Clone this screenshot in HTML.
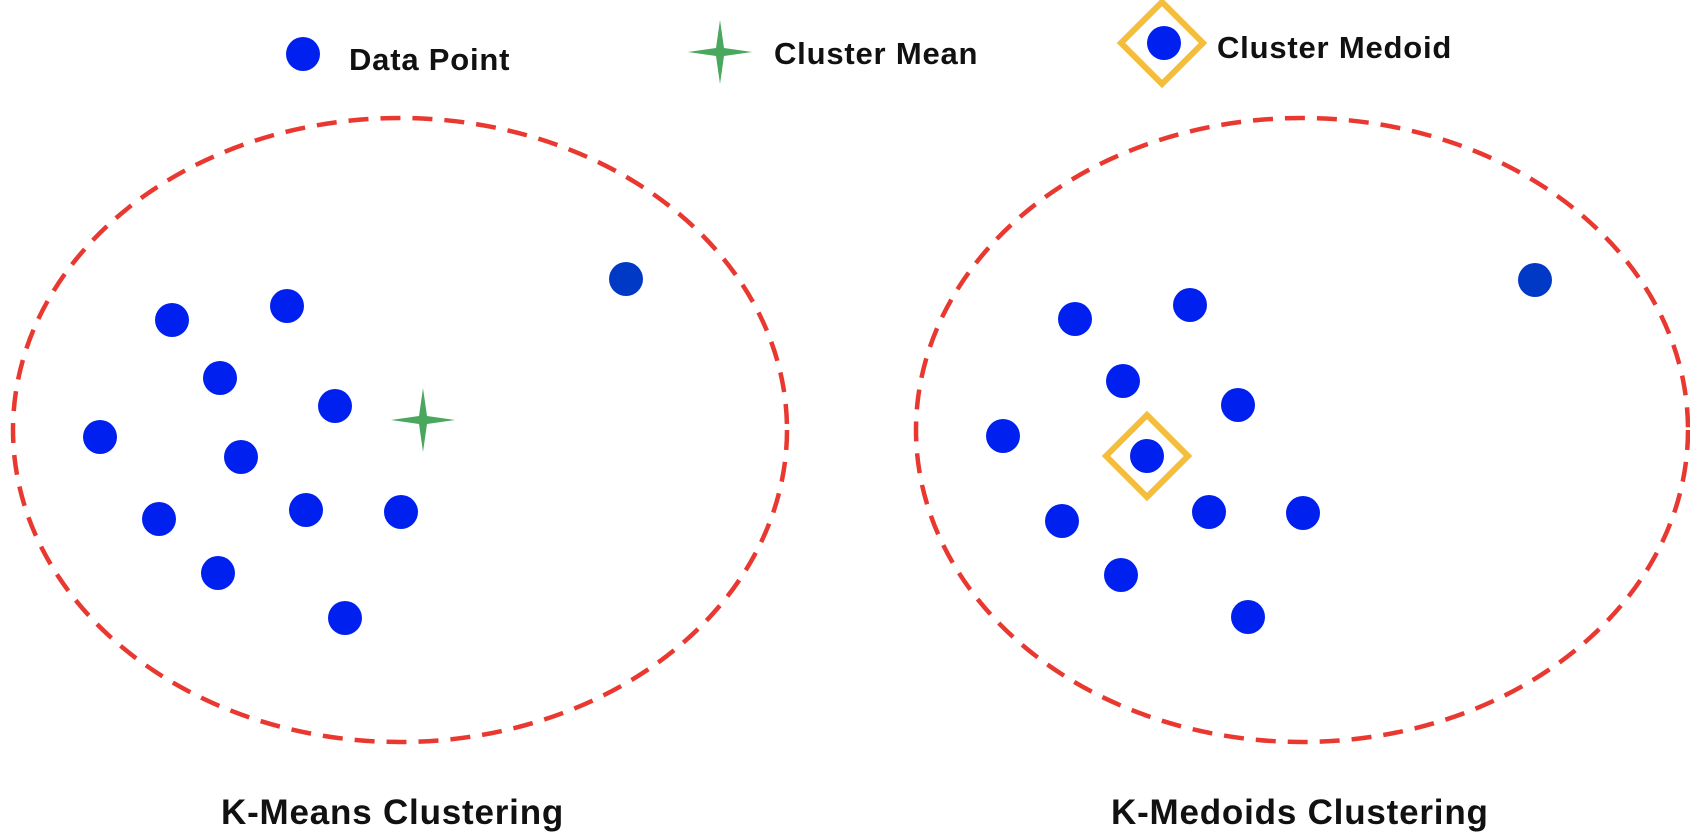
<!DOCTYPE html>
<html><head><meta charset="utf-8"><style>
html,body{margin:0;padding:0;background:#fff;}
svg{display:block;}
text{font-family:"Liberation Sans",sans-serif;font-weight:bold;fill:#111;}
</style></head><body>
<svg width="1690" height="838" viewBox="0 0 1690 838" xmlns="http://www.w3.org/2000/svg">
<g fill="none" stroke="#e8382f" stroke-width="4.5" stroke-dasharray="20 12">
<ellipse cx="400" cy="430" rx="387" ry="312"/>
<ellipse cx="1302" cy="430" rx="386" ry="312"/>
</g>
<!-- legend -->
<circle cx="303" cy="54" r="17" fill="#0020f0"/>
<text x="349" y="70" font-size="31" letter-spacing="0.8">Data Point</text>
<path d="M720,20 L724,48 L752,52 L724,56 L720,84 L716,56 L688,52 L716,48Z" fill="#4aa85e"/>
<text x="774" y="64" font-size="31" letter-spacing="0.8">Cluster Mean</text>
<rect x="1133" y="14" width="58" height="58" transform="rotate(45 1162 43)" fill="none" stroke="#f5bd3c" stroke-width="6"/>
<circle cx="1164" cy="43" r="17" fill="#0020f0"/>
<text x="1217" y="58" font-size="31" letter-spacing="0.8">Cluster Medoid</text>
<g fill="#0020f0">
<circle cx="172" cy="320" r="17"/><circle cx="287" cy="306" r="17"/><circle cx="220" cy="378" r="17"/>
<circle cx="335" cy="406" r="17"/><circle cx="100" cy="437" r="17"/><circle cx="241" cy="457" r="17"/>
<circle cx="159" cy="519" r="17"/><circle cx="306" cy="510" r="17"/><circle cx="401" cy="512" r="17"/>
<circle cx="218" cy="573" r="17"/><circle cx="345" cy="618" r="17"/>
<circle cx="1075" cy="319" r="17"/><circle cx="1190" cy="305" r="17"/><circle cx="1123" cy="381" r="17"/>
<circle cx="1238" cy="405" r="17"/><circle cx="1003" cy="436" r="17"/><circle cx="1147" cy="456" r="17"/>
<circle cx="1062" cy="521" r="17"/><circle cx="1209" cy="512" r="17"/><circle cx="1303" cy="513" r="17"/>
<circle cx="1121" cy="575" r="17"/><circle cx="1248" cy="617" r="17"/>
</g>
<circle cx="626" cy="279" r="17" fill="#0039c6"/>
<circle cx="1535" cy="280" r="17" fill="#0039c6"/>
<path d="M423,388 L427,416 L455,420 L427,424 L423,452 L419,424 L391,420 L419,416Z" fill="#4aa85e"/>
<rect x="1118" y="427" width="58" height="58" transform="rotate(45 1147 456)" fill="none" stroke="#f5bd3c" stroke-width="6"/>
<text x="221" y="824" font-size="35" letter-spacing="0.8">K-Means Clustering</text>
<text x="1111" y="824" font-size="35" letter-spacing="0.8">K-Medoids Clustering</text>
</svg>
</body></html>
